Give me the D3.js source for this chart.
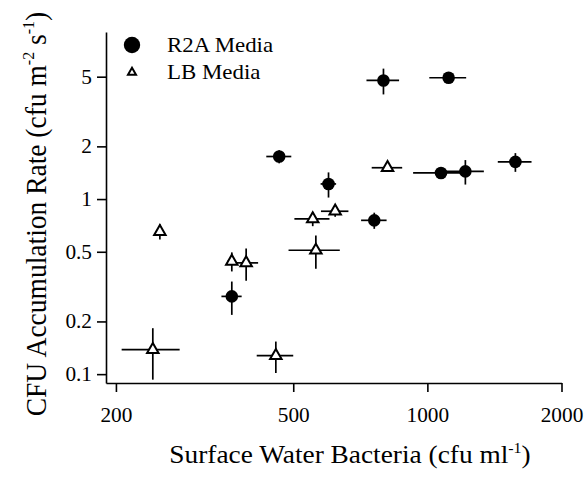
<!DOCTYPE html>
<html>
<head>
<meta charset="utf-8">
<script src="https://cdn.jsdelivr.net/npm/d3@7"></script>
<style>
  html, body { margin: 0; padding: 0; background: #fff; }
  svg { display: block; }
  text { font-family: "Liberation Serif", "Times New Roman", serif; fill: #000; }
</style>
</head>
<body>
<svg id="chart" width="587" height="478"></svg>
<script>
// ---- Data ----
const r2aX    = [364, 465, 600, 760, 797, 1116, 1073, 1217, 1576];
const r2aY    = [0.278, 1.75, 1.22, 0.756, 4.76, 4.93, 1.41, 1.44, 1.63];
const r2aXErr = [19, 30, 24, 50, 67, 106, 144, 122, 137];
const r2aYErr = [0.06, 0.15, 0.2, 0.08, 0.8, 0.2, 0.07, 0.23, 0.2];

const lbX     = [251, 242, 364, 392, 457, 553, 621, 562, 814];
const lbY     = [0.652, 0.138, 0.441, 0.432, 0.1275, 0.77, 0.852, 0.51, 1.51];
const lbXErr  = [5, 36, 8, 25, 43, 50, 44, 74, 64];
const lbYErr  = [0.065, 0.045, 0.055, 0.09, 0.026, 0.07, 0.06, 0.11, 0.08];

const xTicks = [200, 500, 1000, 2000];
const yTicks = [0.1, 0.2, 0.5, 1, 2, 5];
const xDomain = [190, 2000];
const yDomain = [0.089, 9];
const seriesNames = ["R2A Media", "LB Media"];

// ---- Layout ----
const svg = d3.select("#chart");
const margin = { left: 106, right: 25.5, top: 32, bottom: 95 };
const W = 587, H = 478;
const SX = 1.065; // horizontal stretch of the original figure's glyphs

const x = d3.scaleLog().domain(xDomain).range([margin.left, W - margin.right]);
const y = d3.scaleLog().domain(yDomain).range([H - margin.bottom, margin.top]);

// ---- Axes ----
const xAxis = d3.axisBottom(x).tickValues(xTicks).tickFormat(d => String(d))
  .tickSize(9).tickSizeOuter(0).tickPadding(16);
const yAxis = d3.axisLeft(y).tickValues(yTicks).tickFormat(d => String(d))
  .tickSize(9).tickSizeOuter(0).tickPadding(5);

const gx = svg.append("g").attr("transform", `translate(0,${H - margin.bottom})`).call(xAxis);
const gy = svg.append("g").attr("transform", `translate(${margin.left},0)`).call(yAxis);

[gx, gy].forEach(g => {
  g.select(".domain").attr("stroke", "#000").attr("stroke-width", 1.6);
  g.selectAll(".tick line").attr("stroke", "#000").attr("stroke-width", 1.6);
  g.selectAll(".tick text").attr("font-family", "Liberation Serif")
    .attr("font-size", 20).attr("fill", "#000");
});
// stretch tick labels horizontally around their anchor
gx.selectAll(".tick text").attr("transform", `scale(${SX},1)`);
gy.selectAll(".tick text").each(function () {
  const t = d3.select(this);
  const tx = +t.attr("x");
  t.attr("transform", `translate(${tx},0) scale(${SX},1) translate(${-tx},0)`);
});

// ---- Axis titles ----
const xt = svg.append("text")
  .attr("transform", `translate(350,463) scale(${SX},1)`)
  .attr("text-anchor", "middle")
  .attr("font-size", 25.7);
xt.append("tspan").text("Surface Water Bacteria (cfu ml");
xt.append("tspan").attr("font-size", 15).attr("dy", -10).text("-1");
xt.append("tspan").attr("dy", 10).text(")");

const yt = svg.append("text")
  .attr("transform", `translate(46,214) scale(${SX},1) rotate(-90)`)
  .attr("text-anchor", "middle")
  .attr("font-size", 27.5);
yt.append("tspan").text("CFU Accumulation Rate (cfu m");
yt.append("tspan").attr("font-size", 16).attr("dy", -11).text("-2");
yt.append("tspan").attr("dy", 11).text(" s");
yt.append("tspan").attr("font-size", 16).attr("dy", -11).text("-1");
yt.append("tspan").attr("dy", 11).text(")");

// ---- Error bars ----
function errorBars(xs, ys, xe, ye) {
  const g = svg.append("g").attr("stroke", "#000").attr("stroke-width", 1.7);
  xs.forEach((xv, i) => {
    const yv = ys[i];
    g.append("line")
      .attr("x1", x(xv - xe[i])).attr("x2", x(xv + xe[i]))
      .attr("y1", y(yv)).attr("y2", y(yv));
    g.append("line")
      .attr("x1", x(xv)).attr("x2", x(xv))
      .attr("y1", y(yv - ye[i])).attr("y2", y(yv + ye[i]));
  });
}
errorBars(lbX, lbY, lbXErr, lbYErr);
errorBars(r2aX, r2aY, r2aXErr, r2aYErr);

// ---- Markers ----
const tri = d3.symbol().type(d3.symbolTriangle).size(57);
svg.append("g").selectAll("path").data(lbX).join("path")
  .attr("d", tri)
  .attr("transform", (d, i) => `translate(${x(d)},${y(lbY[i])})`)
  .attr("fill", "#fff").attr("stroke", "#000").attr("stroke-width", 2);

svg.append("g").selectAll("circle").data(r2aX).join("circle")
  .attr("cx", d => x(d)).attr("cy", (d, i) => y(r2aY[i]))
  .attr("r", 6.3).attr("fill", "#000");

// ---- Legend ----
const lg = svg.append("g");
lg.append("circle").attr("cx", 132).attr("cy", 45).attr("r", 8.2).attr("fill", "#000");
lg.append("path").attr("d", d3.symbol().type(d3.symbolTriangle).size(28))
  .attr("transform", "translate(132,72.5)")
  .attr("fill", "#fff").attr("stroke", "#000").attr("stroke-width", 2);
lg.append("text").attr("transform", `translate(167,52) scale(${SX},1)`).attr("font-size", 21.5).text(seriesNames[0]);
lg.append("text").attr("transform", `translate(167,79) scale(${SX},1)`).attr("font-size", 21.5).text(seriesNames[1]);
</script>
</body>
</html>
